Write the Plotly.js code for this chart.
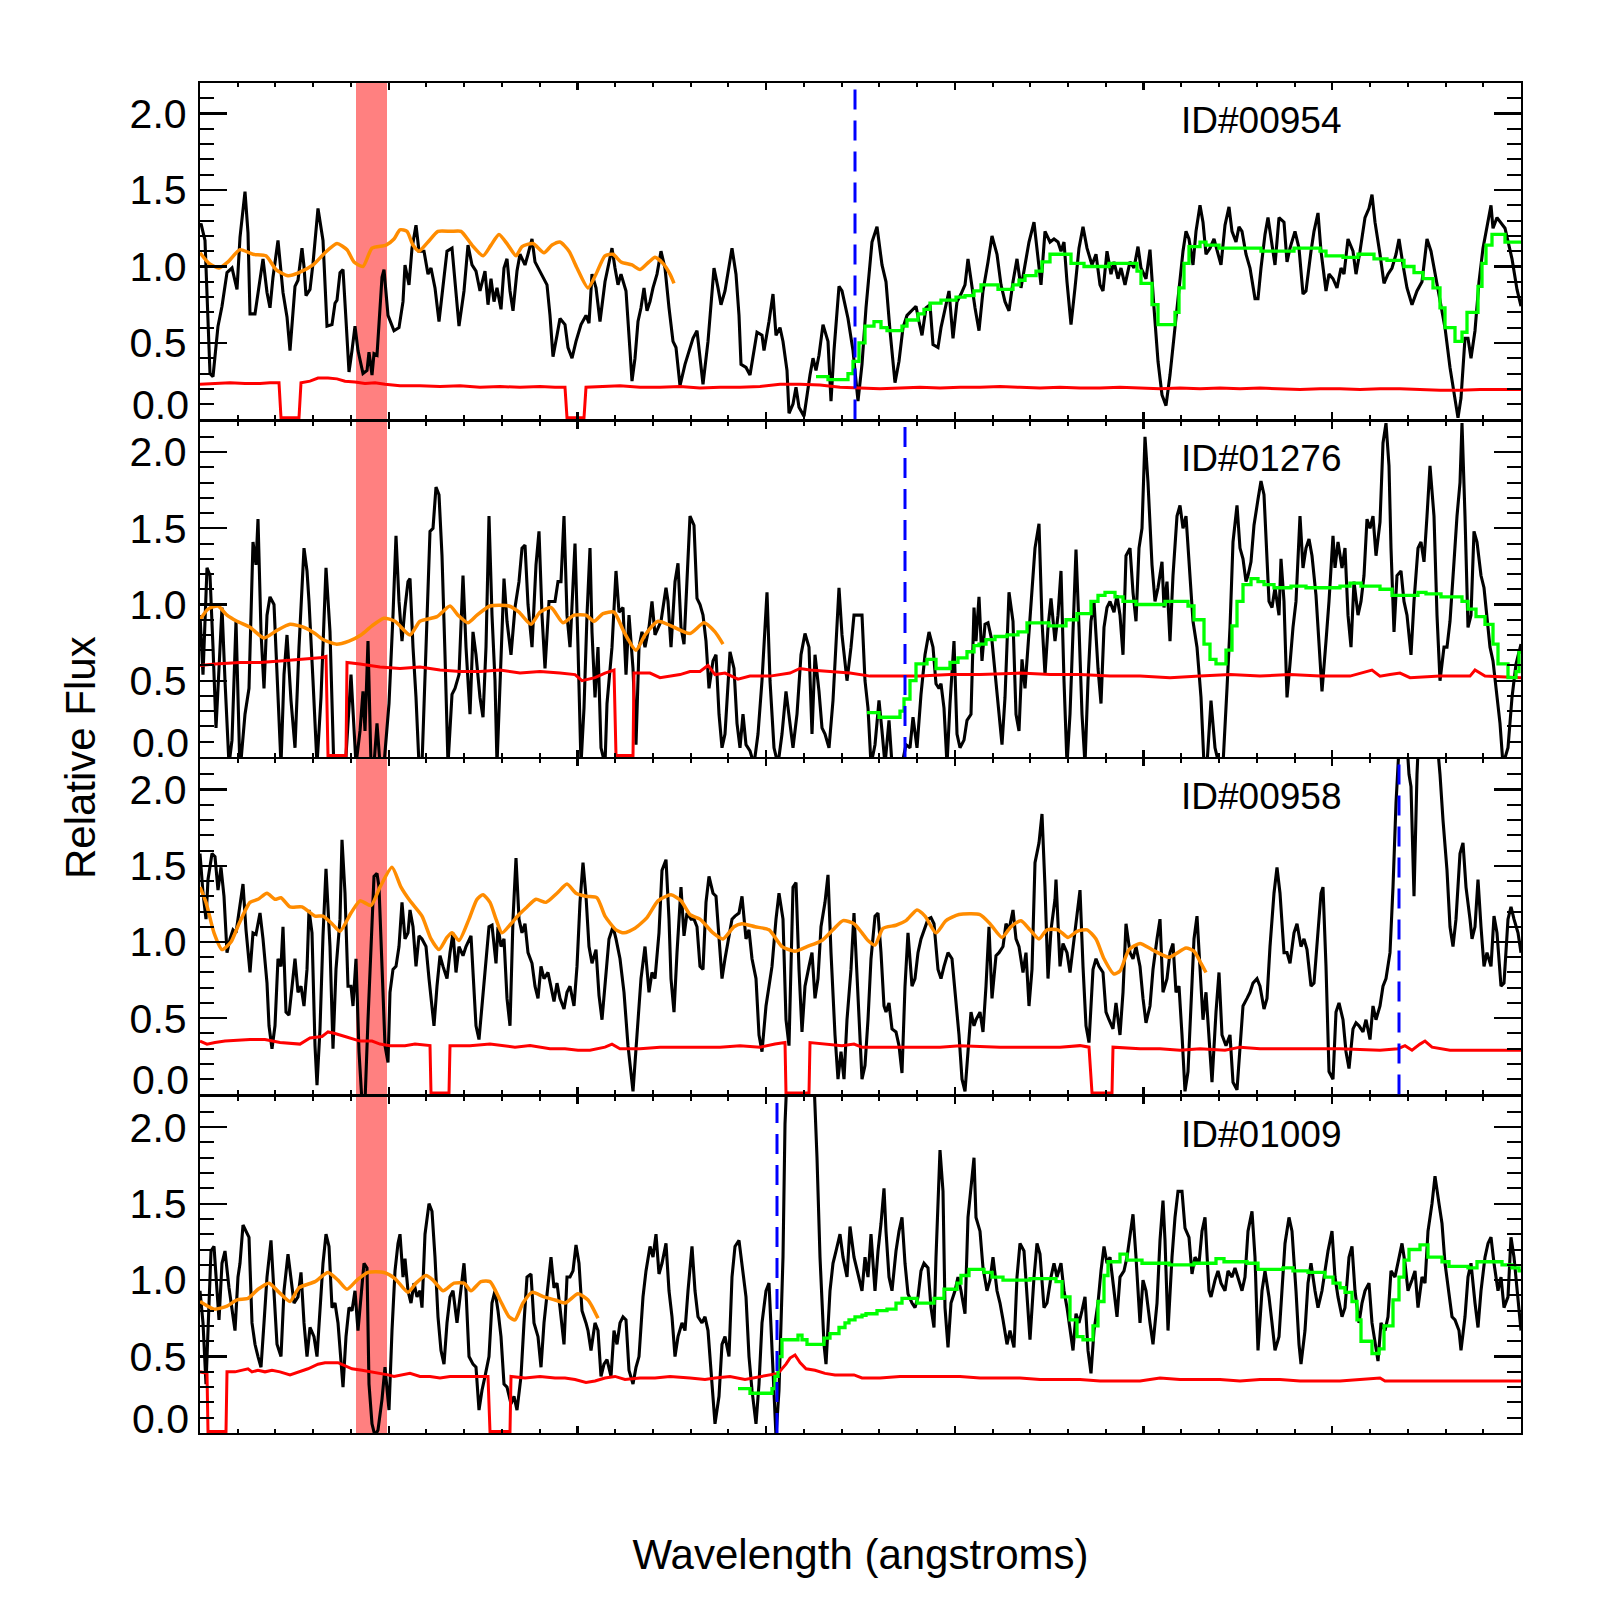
<!DOCTYPE html>
<html><head><meta charset="utf-8">
<script src="https://cdn.plot.ly/plotly-3.0.1.min.js"></script>
<style>html,body{margin:0;padding:0;background:#fff}#chart{width:1600px;height:1600px}</style>
</head><body><div id="chart"></div>
<script>
// ---- data (wavelength, value) ----
const panelIds = ['ID#00954', 'ID#01276', 'ID#00958', 'ID#01009'];
const breakLines = [1855, 1905, 2399, 1777];
const maskBand = [1356, 1387];
const yTickVals = [0, 0.5, 1.0, 1.5, 2.0];
const yTickText = ['', '0.5', '1.0', '1.5', '2.0'];

const flux954 = [[1200,1.27],[1201,1.28],[1205,1.17],[1207,0.83],[1210,0.30],[1213,0.28],[1218,0.61],[1222,0.74],[1227,0.96],[1232,0.99],[1237,0.85],[1240,1.19],[1245,1.49],[1248,1.22],[1250,0.69],[1255,0.69],[1260,0.93],[1263,1.05],[1267,0.83],[1270,0.73],[1273,0.93],[1278,1.17],[1283,0.83],[1287,0.67],[1290,0.45],[1295,0.87],[1298,0.91],[1302,1.12],[1304,1.00],[1306,0.81],[1310,0.85],[1313,1.02],[1318,1.38],[1323,1.17],[1327,0.61],[1332,0.62],[1335,0.76],[1337,0.78],[1340,0.96],[1343,0.98],[1346,0.65],[1349,0.31],[1352,0.45],[1355,0.61],[1358,0.45],[1363,0.30],[1367,0.32],[1369,0.44],[1372,0.29],[1374,0.43],[1377,0.42],[1382,0.93],[1384,0.98],[1388,0.68],[1394,0.58],[1399,0.60],[1403,0.77],[1405,1.01],[1409,0.88],[1412,1.12],[1416,1.27],[1419,1.10],[1424,1.10],[1428,0.95],[1431,0.99],[1435,0.86],[1439,0.64],[1443,0.86],[1447,1.10],[1452,1.12],[1455,0.90],[1459,0.61],[1464,0.84],[1468,1.14],[1472,1.01],[1476,0.97],[1480,0.84],[1485,0.97],[1488,0.75],[1491,0.92],[1494,0.77],[1497,0.86],[1501,0.72],[1504,0.99],[1507,1.05],[1510,0.84],[1513,0.71],[1517,0.97],[1520,1.08],[1525,1.01],[1528,1.08],[1532,1.18],[1535,1.03],[1540,0.97],[1547,0.88],[1550,0.68],[1553,0.41],[1557,0.55],[1560,0.66],[1565,0.62],[1568,0.47],[1572,0.40],[1576,0.51],[1581,0.62],[1586,0.68],[1589,0.63],[1592,0.95],[1596,0.86],[1600,0.64],[1605,0.90],[1609,1.03],[1612,1.12],[1615,0.99],[1618,0.88],[1621,0.95],[1626,0.84],[1630,0.45],[1632,0.25],[1635,0.40],[1638,0.64],[1641,0.73],[1644,0.86],[1647,0.71],[1650,0.77],[1653,0.86],[1657,0.95],[1661,1.10],[1665,0.99],[1669,0.73],[1673,0.51],[1676,0.47],[1680,0.22],[1685,0.36],[1689,0.45],[1693,0.53],[1697,0.58],[1700,0.42],[1703,0.23],[1708,0.51],[1714,0.99],[1718,0.86],[1721,0.75],[1725,0.84],[1732,1.12],[1736,0.95],[1739,0.68],[1741,0.36],[1746,0.34],[1750,0.29],[1754,0.47],[1757,0.57],[1762,0.55],[1764,0.45],[1769,0.64],[1773,0.82],[1776,0.55],[1780,0.60],[1783,0.51],[1787,0.32],[1789,0.04],[1793,0.10],[1796,0.21],[1799,0.08],[1804,0.02],[1807,0.16],[1810,0.29],[1813,0.40],[1816,0.32],[1819,0.42],[1823,0.62],[1828,0.51],[1831,0.12],[1834,0.45],[1839,0.87],[1842,0.84],[1848,0.66],[1853,0.45],[1858,0.12],[1862,0.36],[1866,0.73],[1872,1.16],[1877,1.26],[1882,1.01],[1886,0.90],[1890,0.58],[1895,0.24],[1899,0.38],[1903,0.60],[1907,0.68],[1912,0.71],[1916,0.74],[1919,0.64],[1922,0.55],[1926,0.73],[1930,0.75],[1933,0.49],[1938,0.47],[1941,0.60],[1945,0.73],[1949,0.84],[1953,0.53],[1957,0.77],[1961,0.82],[1965,0.88],[1968,1.05],[1971,0.90],[1975,0.73],[1979,0.58],[1983,0.84],[1988,1.03],[1992,1.20],[1997,1.08],[2001,0.88],[2005,0.77],[2009,0.71],[2013,0.90],[2017,1.05],[2021,0.86],[2025,1.01],[2029,1.16],[2034,1.29],[2037,1.10],[2041,0.88],[2045,1.23],[2050,1.16],[2054,1.18],[2058,1.16],[2061,1.10],[2064,1.16],[2067,0.90],[2071,0.62],[2075,0.86],[2079,1.12],[2083,1.26],[2087,1.12],[2092,1.01],[2096,1.08],[2100,0.88],[2103,0.84],[2107,1.10],[2111,0.95],[2114,1.03],[2118,0.92],[2121,0.99],[2125,0.88],[2130,1.03],[2134,0.99],[2138,1.13],[2141,0.99],[2146,0.92],[2150,1.11],[2154,0.73],[2158,0.38],[2162,0.16],[2166,0.09],[2170,0.29],[2175,0.60],[2179,0.86],[2183,1.10],[2186,1.23],[2189,1.18],[2193,1.01],[2196,1.23],[2200,1.40],[2203,1.29],[2206,1.08],[2210,1.12],[2214,1.18],[2218,1.08],[2221,1.01],[2225,1.27],[2229,1.39],[2232,1.23],[2236,1.16],[2239,1.26],[2242,1.23],[2246,1.08],[2250,0.99],[2255,0.79],[2258,0.79],[2261,0.99],[2265,1.21],[2268,1.32],[2272,1.16],[2275,1.01],[2279,1.32],[2284,1.29],[2287,1.03],[2290,1.12],[2295,1.23],[2299,1.12],[2303,0.82],[2306,0.84],[2311,1.10],[2314,1.23],[2318,1.35],[2321,1.10],[2326,0.84],[2329,0.95],[2333,0.92],[2337,0.86],[2341,0.99],[2344,0.95],[2348,1.18],[2353,1.10],[2356,0.95],[2360,1.10],[2365,1.32],[2369,1.38],[2372,1.47],[2375,1.29],[2380,1.08],[2384,0.89],[2388,0.95],[2392,0.99],[2396,1.08],[2399,1.18],[2403,1.01],[2407,0.86],[2412,0.75],[2417,0.84],[2422,0.90],[2427,1.18],[2431,1.10],[2436,0.92],[2440,0.77],[2445,0.60],[2450,0.34],[2454,0.16],[2458,0.01],[2461,0.14],[2465,0.53],[2468,0.53],[2471,0.40],[2475,0.58],[2479,0.90],[2483,1.12],[2487,1.27],[2491,1.40],[2493,1.25],[2497,1.32],[2505,1.25],[2512,1.05],[2517,0.85],[2521,0.74]];
const err954 = [[1200,0.23],[1215,0.235],[1230,0.24],[1245,0.235],[1260,0.235],[1270,0.24],[1279,0.24],[1281,0.01],[1299,0.01],[1301,0.24],[1310,0.25],[1318,0.27],[1328,0.27],[1337,0.265],[1345,0.25],[1355,0.245],[1365,0.235],[1375,0.24],[1385,0.23],[1400,0.22],[1420,0.22],[1440,0.215],[1460,0.22],[1480,0.21],[1500,0.215],[1520,0.21],[1540,0.215],[1555,0.21],[1565,0.21],[1567,0.01],[1584,0.01],[1586,0.21],[1600,0.215],[1620,0.22],[1640,0.21],[1660,0.21],[1680,0.215],[1700,0.205],[1720,0.21],[1740,0.21],[1760,0.215],[1780,0.23],[1800,0.23],[1820,0.225],[1840,0.21],[1860,0.205],[1880,0.20],[1900,0.205],[1920,0.21],[1940,0.205],[1960,0.21],[1980,0.21],[2000,0.215],[2020,0.21],[2040,0.205],[2060,0.21],[2080,0.205],[2100,0.205],[2120,0.21],[2140,0.205],[2160,0.20],[2180,0.205],[2200,0.20],[2220,0.205],[2240,0.20],[2260,0.205],[2280,0.20],[2300,0.195],[2320,0.20],[2340,0.20],[2360,0.195],[2380,0.20],[2400,0.20],[2420,0.195],[2440,0.19],[2460,0.19],[2480,0.195],[2500,0.195],[2521,0.195]];
const model954 = [[1200,1.09],[1209,1.02],[1219,0.99],[1228,1.03],[1240,1.11],[1253,1.08],[1266,1.07],[1276,0.98],[1288,0.94],[1299,0.96],[1313,1.01],[1325,1.09],[1337,1.15],[1347,1.11],[1354,1.03],[1363,1.00],[1372,1.12],[1386,1.14],[1394,1.18],[1400,1.24],[1407,1.23],[1413,1.14],[1419,1.10],[1428,1.16],[1438,1.23],[1451,1.23],[1461,1.23],[1472,1.14],[1483,1.07],[1491,1.14],[1499,1.21],[1508,1.14],[1516,1.07],[1522,1.13],[1533,1.15],[1544,1.09],[1552,1.14],[1560,1.16],[1569,1.10],[1577,0.99],[1588,0.86],[1596,0.95],[1605,1.07],[1613,1.08],[1621,1.03],[1632,1.01],[1640,0.98],[1649,1.03],[1655,1.06],[1663,1.02],[1670,0.95],[1674,0.89]];
const fit954 = [[1816,0.28],[1828,0.26],[1848,0.30],[1853,0.38],[1859,0.50],[1865,0.61],[1874,0.64],[1881,0.60],[1887,0.58],[1902,0.61],[1907,0.65],[1918,0.69],[1924,0.72],[1930,0.76],[1941,0.78],[1956,0.80],[1965,0.81],[1974,0.84],[1981,0.88],[1998,0.85],[2013,0.88],[2019,0.91],[2025,0.94],[2036,0.97],[2042,1.03],[2050,1.08],[2071,1.02],[2084,1.00],[2109,1.02],[2137,0.97],[2141,0.89],[2152,0.75],[2158,0.62],[2175,0.70],[2179,0.86],[2184,1.02],[2189,1.13],[2200,1.16],[2206,1.14],[2219,1.12],[2261,1.10],[2294,1.12],[2320,1.10],[2326,1.07],[2343,1.06],[2358,1.08],[2374,1.05],[2387,1.04],[2404,1.00],[2414,0.96],[2423,0.92],[2433,0.86],[2440,0.73],[2445,0.60],[2455,0.51],[2462,0.57],[2467,0.70],[2478,0.87],[2482,1.02],[2486,1.14],[2492,1.21],[2505,1.16],[2521,1.16]];

const flux1276 = [[1200,0.93],[1203,0.54],[1207,1.24],[1210,1.19],[1213,0.72],[1216,0.19],[1219,0.58],[1222,0.98],[1225,0.50],[1229,-0.05],[1232,0.11],[1236,0.89],[1240,-0.1],[1245,0.28],[1249,0.45],[1253,1.41],[1256,1.26],[1258,1.56],[1261,0.82],[1264,0.45],[1267,0.93],[1270,1.05],[1274,1.00],[1277,0.50],[1281,-0.05],[1284,0.54],[1287,0.80],[1291,0.37],[1295,0.06],[1299,0.72],[1304,1.37],[1307,1.22],[1309,1.02],[1313,0.50],[1317,-0.05],[1321,0.39],[1326,1.24],[1330,0.82],[1334,-0.1],[1339,-0.1],[1345,-0.1],[1351,0.54],[1356,-0.05],[1360,0.17],[1363,0.43],[1365,0.17],[1368,0.76],[1371,-0.05],[1374,-0.05],[1377,0.22],[1380,-0.05],[1384,-0.05],[1389,0.35],[1393,0.93],[1396,1.45],[1399,1.02],[1402,0.76],[1405,0.98],[1408,1.15],[1410,1.17],[1413,0.72],[1416,0.39],[1419,-0.05],[1422,-0.05],[1426,0.72],[1430,1.48],[1433,1.50],[1436,1.77],[1439,1.72],[1442,1.32],[1445,0.67],[1448,-0.05],[1452,0.41],[1455,0.45],[1459,0.54],[1463,1.19],[1466,0.72],[1470,0.28],[1473,0.82],[1476,0.67],[1480,0.39],[1483,0.26],[1486,0.72],[1489,1.58],[1492,0.93],[1495,0.50],[1497,-0.05],[1501,0.72],[1504,1.17],[1507,0.89],[1511,0.67],[1515,0.98],[1519,1.15],[1522,1.37],[1525,1.39],[1528,1.00],[1532,0.72],[1536,1.26],[1539,1.48],[1542,0.93],[1545,0.58],[1549,1.02],[1552,1.02],[1555,1.02],[1558,1.15],[1561,1.15],[1564,1.58],[1567,0.93],[1570,0.72],[1573,1.15],[1575,1.40],[1578,0.72],[1581,-0.05],[1584,0.32],[1587,0.93],[1590,1.37],[1592,0.82],[1595,0.39],[1598,0.72],[1601,0.06],[1605,-0.05],[1607,0.35],[1612,0.72],[1616,1.22],[1619,0.95],[1623,0.98],[1626,0.54],[1629,0.93],[1633,0.58],[1636,0.08],[1639,0.72],[1642,0.82],[1645,0.72],[1649,0.85],[1652,1.02],[1655,0.80],[1658,0.85],[1661,0.89],[1666,1.11],[1668,1.02],[1671,0.72],[1675,1.15],[1678,1.27],[1681,0.85],[1684,0.74],[1687,1.22],[1690,1.58],[1694,1.52],[1697,1.04],[1700,1.00],[1703,0.93],[1706,0.76],[1709,0.45],[1713,0.63],[1716,0.67],[1719,0.28],[1722,0.06],[1725,0.15],[1730,0.69],[1734,0.58],[1737,0.22],[1740,0.06],[1743,0.28],[1746,0.08],[1750,0.04],[1754,-0.05],[1758,0.15],[1762,0.50],[1767,1.08],[1770,0.50],[1774,0.06],[1778,-0.05],[1782,0.15],[1786,0.43],[1789,0.28],[1793,0.06],[1797,0.28],[1801,0.67],[1805,0.81],[1809,0.72],[1812,0.15],[1815,0.67],[1819,0.43],[1822,0.19],[1825,0.15],[1829,0.06],[1833,0.37],[1836,0.72],[1839,1.11],[1842,0.80],[1847,0.50],[1851,0.72],[1854,0.93],[1862,0.93],[1865,0.50],[1868,0.32],[1871,-0.05],[1875,0.08],[1879,0.37],[1882,0.17],[1885,-0.05],[1889,0.24],[1892,-0.05],[1898,-0.05],[1902,-0.05],[1906,0.08],[1910,0.06],[1913,0.26],[1917,0.06],[1921,0.41],[1925,0.67],[1929,0.82],[1933,0.72],[1936,0.48],[1939,0.45],[1941,0.48],[1944,0.32],[1947,-0.05],[1950,0.35],[1954,0.76],[1957,0.15],[1960,0.06],[1964,0.11],[1967,0.24],[1971,0.28],[1974,0.98],[1976,0.76],[1979,1.05],[1982,0.63],[1985,0.87],[1988,0.88],[1992,0.76],[1996,0.50],[1999,0.28],[2002,0.08],[2005,0.39],[2009,1.08],[2013,0.89],[2016,0.28],[2019,0.17],[2022,0.64],[2025,0.45],[2028,0.72],[2031,1.04],[2035,1.37],[2039,1.53],[2042,0.89],[2045,0.54],[2048,0.85],[2051,1.04],[2055,0.76],[2058,0.93],[2061,1.22],[2064,0.50],[2067,-0.05],[2070,0.28],[2073,0.89],[2076,1.36],[2079,0.85],[2082,0.28],[2085,-0.05],[2088,0.50],[2091,0.89],[2094,1.02],[2098,0.58],[2101,0.35],[2104,0.85],[2107,0.98],[2110,1.02],[2114,0.95],[2117,1.06],[2120,0.93],[2123,0.67],[2126,1.32],[2130,1.37],[2133,1.08],[2136,0.89],[2139,1.37],[2142,1.50],[2145,2.10],[2148,1.80],[2152,1.26],[2155,1.02],[2158,1.11],[2162,1.28],[2164,0.98],[2167,1.15],[2170,0.76],[2173,1.19],[2177,1.58],[2180,1.65],[2183,1.50],[2186,1.58],[2189,1.26],[2193,0.89],[2197,0.72],[2201,0.39],[2204,-0.05],[2207,-0.05],[2211,0.37],[2215,0.06],[2219,-0.05],[2223,-0.05],[2227,0.45],[2230,0.85],[2233,1.41],[2237,1.65],[2240,1.37],[2243,1.30],[2246,1.15],[2248,1.19],[2251,1.28],[2254,1.52],[2258,1.69],[2261,1.81],[2264,1.72],[2267,1.26],[2269,1.02],[2272,0.98],[2275,1.11],[2279,0.93],[2281,1.30],[2284,1.02],[2287,0.39],[2290,0.61],[2293,0.85],[2296,1.02],[2300,1.58],[2303,1.24],[2306,1.37],[2309,1.43],[2312,1.32],[2316,1.06],[2319,0.72],[2322,0.43],[2326,0.76],[2329,1.02],[2333,1.45],[2335,1.24],[2338,1.41],[2342,1.24],[2345,1.37],[2348,0.93],[2351,0.72],[2354,1.15],[2358,0.93],[2361,1.02],[2364,1.19],[2367,1.56],[2370,1.50],[2373,1.58],[2376,1.32],[2380,1.54],[2383,2.06],[2386,2.19],[2389,1.91],[2391,1.37],[2394,0.82],[2397,1.19],[2401,1.22],[2404,1.02],[2407,0.93],[2411,0.67],[2414,1.02],[2418,1.37],[2421,1.41],[2424,1.28],[2427,1.58],[2430,1.91],[2434,1.58],[2437,0.93],[2440,0.50],[2444,0.72],[2447,0.72],[2450,0.89],[2454,1.28],[2457,1.58],[2460,1.80],[2462,2.19],[2465,1.58],[2468,0.85],[2471,0.93],[2474,1.48],[2477,1.41],[2481,1.19],[2484,1.11],[2487,0.89],[2490,0.72],[2493,0.63],[2497,0.39],[2500,0.22],[2503,-0.05],[2508,0.06],[2512,0.39],[2516,0.61],[2521,0.74]];
const err1276 = [[1200,0.60],[1215,0.61],[1240,0.62],[1260,0.62],[1280,0.63],[1300,0.64],[1320,0.65],[1326,0.66],[1328,0.01],[1346,0.01],[1347,0.62],[1360,0.61],[1380,0.59],[1400,0.58],[1420,0.59],[1440,0.57],[1460,0.56],[1480,0.56],[1500,0.57],[1520,0.55],[1540,0.56],[1560,0.55],[1575,0.54],[1582,0.50],[1595,0.52],[1605,0.55],[1614,0.57],[1616,0.01],[1633,0.01],[1634,0.55],[1650,0.55],[1660,0.52],[1680,0.54],[1690,0.56],[1700,0.56],[1708,0.60],[1715,0.54],[1725,0.55],[1738,0.51],[1750,0.53],[1770,0.53],[1790,0.55],[1800,0.58],[1810,0.57],[1830,0.56],[1850,0.55],[1870,0.53],[1890,0.53],[1920,0.53],[1950,0.54],[1980,0.54],[2020,0.55],[2050,0.54],[2080,0.54],[2110,0.53],[2140,0.53],[2170,0.52],[2200,0.53],[2230,0.54],[2260,0.53],[2290,0.54],[2320,0.53],[2350,0.53],[2372,0.57],[2380,0.53],[2390,0.54],[2400,0.55],[2410,0.52],[2440,0.53],[2470,0.53],[2475,0.57],[2485,0.53],[2521,0.52]];
const model1276 = [[1200,0.90],[1208,0.97],[1218,0.99],[1227,0.93],[1237,0.89],[1250,0.85],[1264,0.78],[1277,0.83],[1290,0.87],[1304,0.85],[1315,0.81],[1323,0.77],[1336,0.74],[1349,0.76],[1361,0.80],[1372,0.86],[1384,0.91],[1395,0.89],[1410,0.80],[1420,0.89],[1437,0.92],[1450,0.99],[1458,0.93],[1468,0.88],[1477,0.93],[1490,0.99],[1509,0.99],[1519,0.95],[1531,0.87],[1540,0.95],[1551,0.98],[1563,0.88],[1574,0.93],[1586,0.93],[1594,0.89],[1603,0.94],[1614,0.95],[1624,0.82],[1636,0.70],[1645,0.80],[1658,0.89],[1671,0.86],[1690,0.81],[1704,0.88],[1715,0.82],[1723,0.74]];
const fit1276 = [[1867,0.29],[1879,0.26],[1900,0.30],[1904,0.38],[1910,0.50],[1916,0.61],[1927,0.64],[1936,0.58],[1950,0.62],[1958,0.65],[1967,0.69],[1974,0.73],[1979,0.74],[1986,0.77],[1995,0.79],[2007,0.80],[2018,0.82],[2027,0.88],[2049,0.86],[2066,0.90],[2077,0.94],[2091,1.02],[2098,1.06],[2105,1.08],[2115,1.05],[2123,1.02],[2136,1.00],[2165,1.02],[2188,0.99],[2194,0.90],[2204,0.74],[2210,0.64],[2216,0.61],[2226,0.70],[2232,0.86],[2237,1.02],[2243,1.13],[2251,1.17],[2258,1.15],[2264,1.13],[2274,1.11],[2291,1.12],[2306,1.11],[2321,1.11],[2340,1.12],[2350,1.14],[2361,1.12],[2380,1.10],[2392,1.06],[2407,1.06],[2418,1.08],[2426,1.07],[2441,1.05],[2462,1.02],[2468,0.97],[2476,0.92],[2485,0.87],[2493,0.74],[2498,0.61],[2508,0.52],[2516,0.56],[2519,0.69],[2521,0.69]];

const flux958 = [[1200,1.58],[1203,1.32],[1206,1.15],[1208,1.41],[1212,1.58],[1215,1.56],[1218,1.34],[1221,1.49],[1224,1.30],[1227,0.93],[1230,1.02],[1233,1.08],[1236,1.06],[1239,1.19],[1243,1.38],[1246,1.08],[1250,0.80],[1253,1.06],[1256,1.05],[1260,1.19],[1263,1.02],[1267,0.73],[1269,0.45],[1272,0.30],[1275,0.45],[1278,0.89],[1281,0.84],[1283,1.10],[1286,0.54],[1289,0.52],[1293,0.76],[1295,0.89],[1298,0.67],[1301,0.71],[1304,0.58],[1307,0.82],[1309,1.21],[1312,1.06],[1315,0.32],[1317,0.06],[1320,0.43],[1323,1.04],[1326,1.48],[1330,0.97],[1333,0.30],[1336,0.82],[1340,1.15],[1342,1.67],[1345,1.32],[1348,0.71],[1351,0.71],[1353,0.58],[1356,0.89],[1359,0.28],[1362,-0.05],[1365,-0.05],[1368,0.49],[1372,1.15],[1374,1.43],[1377,1.45],[1379,1.36],[1382,0.84],[1385,0.32],[1388,0.21],[1390,0.67],[1393,0.82],[1396,0.84],[1399,0.97],[1402,1.26],[1405,1.02],[1408,1.06],[1410,1.21],[1413,1.10],[1416,0.84],[1419,1.04],[1422,1.02],[1426,0.97],[1429,0.76],[1432,0.58],[1434,0.45],[1437,0.71],[1440,0.91],[1443,0.84],[1447,0.76],[1450,0.93],[1453,1.06],[1456,0.80],[1459,0.97],[1463,0.91],[1466,0.97],[1471,1.04],[1474,0.71],[1476,0.45],[1479,0.36],[1482,0.58],[1485,0.82],[1489,1.10],[1492,1.11],[1496,0.86],[1498,1.10],[1501,0.97],[1504,1.02],[1507,0.63],[1510,0.45],[1513,1.15],[1516,1.55],[1519,1.15],[1522,1.06],[1525,1.12],[1528,0.93],[1532,0.86],[1535,0.71],[1538,0.63],[1541,0.84],[1544,0.76],[1548,0.80],[1551,0.71],[1554,0.61],[1557,0.73],[1560,0.63],[1564,0.56],[1567,0.67],[1570,0.71],[1574,0.58],[1577,0.84],[1580,1.26],[1583,1.52],[1586,1.30],[1589,0.97],[1592,0.86],[1596,0.95],[1599,0.65],[1602,0.49],[1606,0.82],[1609,1.02],[1613,1.10],[1616,1.02],[1620,0.89],[1624,0.67],[1628,0.32],[1633,0.02],[1637,0.39],[1641,0.76],[1645,0.97],[1649,0.67],[1652,0.80],[1655,0.76],[1659,1.06],[1662,1.47],[1666,1.54],[1669,1.15],[1671,0.76],[1674,0.54],[1677,0.93],[1681,1.36],[1684,1.04],[1687,1.19],[1691,1.15],[1694,1.15],[1697,1.10],[1700,0.84],[1703,0.82],[1706,1.26],[1709,1.43],[1713,1.32],[1716,1.30],[1719,1.02],[1722,0.76],[1725,0.89],[1729,1.04],[1732,1.15],[1735,1.17],[1739,1.19],[1742,1.30],[1746,1.02],[1749,1.08],[1752,0.89],[1756,0.76],[1759,0.39],[1762,0.28],[1766,0.58],[1769,0.71],[1772,0.84],[1776,1.15],[1779,1.32],[1783,1.15],[1786,0.49],[1789,0.32],[1793,1.36],[1796,1.39],[1799,0.82],[1802,0.41],[1805,0.71],[1809,0.84],[1812,0.93],[1815,0.63],[1818,0.76],[1821,1.10],[1825,1.26],[1828,1.44],[1831,0.93],[1835,0.39],[1838,0.10],[1841,0.28],[1844,0.10],[1847,0.49],[1851,0.82],[1854,1.19],[1862,0.10],[1865,0.19],[1868,0.49],[1871,0.89],[1875,1.17],[1878,1.19],[1881,0.93],[1884,0.58],[1886,0.54],[1889,0.60],[1892,0.43],[1896,0.41],[1899,0.32],[1902,0.14],[1905,0.71],[1908,1.06],[1912,0.71],[1915,0.76],[1918,0.93],[1921,1.02],[1924,1.08],[1928,1.15],[1931,1.16],[1934,1.12],[1938,0.82],[1941,0.76],[1944,0.84],[1948,0.93],[1952,0.89],[1955,0.67],[1959,0.39],[1962,0.10],[1965,0.02],[1968,0.28],[1971,0.54],[1974,0.45],[1976,0.49],[1980,0.54],[1983,0.41],[1986,0.71],[1989,1.10],[1992,0.63],[1996,0.91],[1999,0.93],[2003,0.97],[2006,1.12],[2009,1.08],[2013,1.21],[2016,1.02],[2019,0.97],[2023,0.80],[2026,0.93],[2029,0.58],[2032,0.82],[2035,1.52],[2039,1.65],[2042,1.84],[2045,1.36],[2048,0.76],[2051,1.08],[2055,1.28],[2056,1.41],[2060,0.84],[2063,0.99],[2067,0.93],[2070,0.80],[2073,0.97],[2077,1.19],[2080,1.34],[2083,0.84],[2086,0.45],[2089,0.34],[2093,0.82],[2096,0.89],[2099,0.84],[2103,0.80],[2106,0.54],[2109,0.49],[2113,0.43],[2116,0.60],[2120,0.39],[2123,0.67],[2126,1.12],[2130,0.93],[2133,0.89],[2136,0.97],[2140,0.84],[2143,0.63],[2146,0.47],[2150,0.58],[2153,0.82],[2157,1.02],[2160,1.15],[2163,0.67],[2167,0.76],[2170,0.93],[2173,0.99],[2176,0.67],[2179,0.71],[2182,0.39],[2185,0.02],[2188,0.15],[2191,0.58],[2194,1.02],[2197,1.17],[2200,0.84],[2203,0.49],[2206,0.67],[2209,0.36],[2212,0.08],[2216,0.54],[2219,0.80],[2222,0.39],[2226,0.32],[2230,0.39],[2233,0.08],[2237,0.03],[2240,0.28],[2243,0.58],[2247,0.63],[2250,0.67],[2253,0.73],[2257,0.76],[2260,0.71],[2264,0.56],[2267,0.63],[2270,0.97],[2274,1.32],[2277,1.49],[2280,1.32],[2284,0.93],[2287,0.93],[2290,0.86],[2294,1.06],[2297,1.12],[2301,0.97],[2304,1.02],[2307,0.95],[2311,0.71],[2314,0.73],[2317,0.97],[2321,1.32],[2323,1.36],[2326,0.84],[2329,0.15],[2333,0.10],[2336,0.54],[2339,0.60],[2343,0.49],[2346,0.28],[2349,0.17],[2353,0.43],[2356,0.47],[2359,0.45],[2363,0.41],[2366,0.49],[2370,0.36],[2373,0.58],[2376,0.49],[2380,0.58],[2383,0.71],[2386,0.76],[2390,0.93],[2393,1.36],[2396,1.91],[2398,2.17],[2400,2.40],[2406,2.40],[2409,2.10],[2411,2.02],[2414,1.30],[2417,2.10],[2419,2.40],[2436,2.40],[2440,2.10],[2443,1.80],[2447,1.47],[2450,1.10],[2453,0.97],[2456,1.15],[2460,1.58],[2463,1.65],[2466,1.36],[2470,1.15],[2472,1.02],[2475,1.10],[2478,1.41],[2481,1.10],[2484,0.84],[2487,0.93],[2491,0.84],[2494,1.17],[2497,1.06],[2501,0.71],[2504,0.73],[2508,1.15],[2511,1.23],[2514,1.15],[2518,1.06],[2521,0.93]];
const err958 = [[1200,0.35],[1207,0.33],[1215,0.34],[1225,0.35],[1250,0.36],[1265,0.36],[1280,0.34],[1300,0.33],[1310,0.37],[1322,0.38],[1328,0.41],[1335,0.40],[1345,0.38],[1360,0.35],[1372,0.35],[1380,0.33],[1390,0.32],[1405,0.32],[1415,0.33],[1426,0.32],[1430,0.32],[1431,0.01],[1449,0.01],[1450,0.32],[1470,0.32],[1490,0.33],[1505,0.32],[1515,0.31],[1530,0.32],[1550,0.30],[1565,0.30],[1578,0.29],[1590,0.29],[1605,0.31],[1612,0.33],[1620,0.30],[1640,0.30],[1660,0.31],[1680,0.31],[1700,0.31],[1720,0.31],[1740,0.32],[1760,0.31],[1775,0.33],[1785,0.34],[1786,0.01],[1809,0.01],[1810,0.34],[1830,0.33],[1842,0.32],[1854,0.33],[1862,0.31],[1900,0.31],[1940,0.31],[1960,0.32],[2000,0.31],[2040,0.31],[2060,0.31],[2080,0.32],[2089,0.31],[2092,0.01],[2112,0.01],[2113,0.31],[2140,0.30],[2160,0.30],[2180,0.29],[2200,0.30],[2225,0.29],[2240,0.31],[2260,0.30],[2300,0.30],[2340,0.30],[2380,0.29],[2398,0.30],[2405,0.32],[2412,0.29],[2420,0.33],[2425,0.35],[2432,0.31],[2450,0.29],[2480,0.29],[2500,0.29],[2521,0.29]];
const model958 = [[1200,1.36],[1206,1.26],[1214,1.06],[1222,0.95],[1231,1.00],[1239,1.12],[1250,1.26],[1258,1.28],[1267,1.32],[1275,1.28],[1281,1.29],[1290,1.23],[1302,1.23],[1315,1.17],[1323,1.17],[1332,1.12],[1340,1.07],[1351,1.19],[1360,1.27],[1371,1.24],[1380,1.36],[1392,1.49],[1401,1.36],[1410,1.27],[1422,1.17],[1431,1.02],[1439,0.95],[1447,1.03],[1452,1.06],[1459,1.01],[1469,1.15],[1477,1.28],[1483,1.31],[1490,1.26],[1496,1.15],[1502,1.06],[1511,1.12],[1519,1.18],[1527,1.23],[1536,1.28],[1546,1.26],[1557,1.32],[1567,1.38],[1576,1.32],[1586,1.30],[1597,1.29],[1605,1.17],[1616,1.08],[1624,1.06],[1635,1.09],[1647,1.16],[1658,1.27],[1671,1.31],[1681,1.27],[1690,1.18],[1700,1.15],[1713,1.06],[1723,1.02],[1734,1.10],[1742,1.12],[1755,1.10],[1769,1.08],[1782,0.97],[1795,0.94],[1807,0.97],[1822,1.01],[1833,1.08],[1843,1.14],[1854,1.12],[1862,1.06],[1868,1.01],[1875,0.98],[1883,1.09],[1896,1.11],[1906,1.14],[1917,1.21],[1925,1.17],[1936,1.06],[1946,1.14],[1959,1.18],[1980,1.18],[1990,1.12],[2002,1.03],[2011,1.10],[2021,1.14],[2030,1.08],[2039,1.02],[2047,1.08],[2058,1.08],[2068,1.03],[2077,1.07],[2087,1.08],[2096,1.02],[2104,0.89],[2114,0.79],[2120,0.81],[2129,0.95],[2140,0.99],[2152,0.95],[2169,0.90],[2186,0.96],[2194,0.94],[2201,0.86],[2206,0.80]];

const flux1009 = [[1200,0.93],[1203,0.72],[1206,0.32],[1208,0.67],[1211,1.19],[1214,1.22],[1217,0.93],[1219,0.74],[1222,1.11],[1225,1.19],[1229,0.95],[1232,0.80],[1235,0.67],[1238,1.02],[1240,1.11],[1243,1.36],[1246,1.32],[1249,1.28],[1252,0.72],[1255,0.58],[1258,0.50],[1261,0.43],[1264,0.72],[1267,1.02],[1271,1.26],[1274,0.89],[1277,0.58],[1281,0.50],[1284,0.93],[1288,1.17],[1291,1.02],[1294,0.85],[1298,0.89],[1301,1.05],[1304,0.72],[1307,0.50],[1310,0.69],[1314,0.63],[1317,0.50],[1320,0.85],[1323,1.11],[1326,1.30],[1329,1.22],[1332,0.82],[1335,0.85],[1338,0.72],[1341,0.45],[1343,0.30],[1346,0.63],[1349,0.82],[1352,0.80],[1355,0.93],[1358,0.67],[1361,0.89],[1364,1.11],[1367,1.08],[1369,0.32],[1372,0.06],[1375,-0.02],[1378,0.02],[1382,0.22],[1385,0.43],[1389,0.15],[1392,0.67],[1395,1.06],[1398,1.24],[1400,1.30],[1403,1.02],[1405,1.14],[1408,0.93],[1411,0.85],[1414,0.98],[1417,0.89],[1420,0.93],[1422,0.82],[1425,1.30],[1429,1.50],[1432,1.45],[1435,1.15],[1438,0.76],[1441,0.54],[1444,0.45],[1447,0.72],[1450,0.89],[1453,0.93],[1457,0.72],[1460,0.89],[1464,1.11],[1466,0.93],[1469,0.50],[1473,0.45],[1476,0.43],[1479,0.15],[1482,0.28],[1485,0.37],[1489,0.50],[1492,0.85],[1495,0.93],[1498,0.80],[1501,0.63],[1504,0.32],[1507,0.30],[1511,0.19],[1514,0.24],[1517,0.15],[1521,0.37],[1524,0.72],[1527,1.02],[1531,1.04],[1534,0.72],[1538,0.63],[1541,0.43],[1544,0.72],[1548,0.98],[1551,1.15],[1554,0.95],[1557,0.98],[1560,0.82],[1564,0.58],[1567,1.02],[1570,1.02],[1573,1.06],[1576,1.23],[1579,1.11],[1582,0.80],[1586,0.72],[1588,0.67],[1591,0.54],[1595,0.72],[1598,0.67],[1601,0.37],[1604,0.45],[1607,0.48],[1611,0.37],[1614,0.67],[1617,0.58],[1620,0.72],[1623,0.76],[1626,0.74],[1629,0.41],[1633,0.32],[1636,0.43],[1639,0.50],[1643,0.89],[1646,1.06],[1650,1.22],[1653,1.15],[1656,1.30],[1659,1.04],[1662,1.11],[1666,1.24],[1669,0.93],[1672,0.76],[1675,0.50],[1678,0.63],[1682,0.72],[1685,0.67],[1688,0.93],[1692,1.22],[1695,0.93],[1698,0.76],[1702,0.72],[1705,0.76],[1708,0.67],[1712,0.35],[1715,0.06],[1719,0.24],[1722,0.58],[1725,0.63],[1729,0.50],[1732,1.02],[1735,1.22],[1739,1.26],[1742,1.11],[1746,0.89],[1749,0.50],[1752,0.28],[1756,0.06],[1759,0.32],[1762,0.72],[1766,0.93],[1769,0.98],[1772,0.50],[1776,-0.02],[1779,0.28],[1783,1.15],[1785,2.02],[1788,2.50],[1812,2.50],[1814,2.30],[1817,1.80],[1820,1.15],[1824,0.58],[1826,0.45],[1830,0.93],[1833,1.11],[1836,1.19],[1840,1.30],[1843,1.15],[1847,1.02],[1850,1.35],[1854,1.15],[1862,0.93],[1865,1.15],[1868,1.02],[1871,1.30],[1875,0.93],[1878,1.19],[1881,1.37],[1884,1.60],[1886,1.32],[1889,1.02],[1892,0.93],[1896,1.19],[1899,1.32],[1902,1.41],[1905,1.11],[1908,0.91],[1912,0.85],[1915,0.82],[1918,0.89],[1921,1.06],[1924,1.11],[1928,1.08],[1931,0.82],[1934,0.69],[1936,1.15],[1940,1.85],[1943,1.58],[1945,0.82],[1948,0.56],[1951,0.85],[1955,0.93],[1958,1.02],[1961,0.93],[1965,0.78],[1968,1.41],[1971,1.63],[1974,1.80],[1976,1.41],[1980,1.32],[1983,1.08],[1987,0.93],[1990,1.00],[1993,1.15],[1997,0.93],[2000,0.85],[2003,0.74],[2007,0.58],[2010,0.67],[2014,0.56],[2017,1.02],[2020,1.24],[2024,1.19],[2027,0.89],[2030,0.61],[2034,1.02],[2037,1.24],[2040,1.17],[2044,0.82],[2047,0.85],[2051,1.02],[2054,1.11],[2057,1.02],[2061,1.11],[2064,0.93],[2067,0.82],[2070,0.67],[2073,0.54],[2076,0.78],[2079,0.72],[2082,0.80],[2085,0.89],[2088,0.54],[2091,0.39],[2094,0.67],[2098,0.85],[2101,1.06],[2104,1.22],[2107,1.11],[2110,1.15],[2114,0.93],[2117,0.76],[2120,1.02],[2124,1.06],[2127,1.15],[2131,1.32],[2133,1.43],[2136,1.15],[2140,0.72],[2143,1.00],[2146,0.93],[2150,0.72],[2153,0.58],[2157,0.85],[2160,1.26],[2163,1.52],[2165,1.26],[2168,0.67],[2172,1.15],[2175,1.41],[2178,1.58],[2182,1.58],[2185,1.34],[2189,1.28],[2192,1.04],[2195,1.15],[2199,1.11],[2202,1.32],[2205,1.41],[2209,0.93],[2211,0.89],[2215,1.00],[2218,1.06],[2221,0.98],[2225,0.93],[2228,1.06],[2232,1.02],[2235,1.08],[2238,1.02],[2242,0.93],[2245,1.02],[2248,1.32],[2252,1.45],[2255,1.15],[2258,0.54],[2262,0.93],[2265,1.06],[2269,0.89],[2272,0.72],[2275,0.54],[2279,0.63],[2282,0.93],[2285,1.24],[2289,1.41],[2292,1.32],[2296,0.93],[2299,0.58],[2301,0.45],[2305,0.67],[2308,0.98],[2311,1.11],[2315,0.93],[2318,0.82],[2322,0.93],[2325,1.06],[2328,1.19],[2332,1.32],[2335,1.02],[2338,0.89],[2342,0.76],[2345,0.82],[2349,1.15],[2352,1.22],[2355,0.93],[2359,0.72],[2362,0.85],[2365,0.93],[2369,0.98],[2372,0.72],[2375,0.58],[2378,0.47],[2381,0.72],[2385,0.67],[2388,0.76],[2391,1.06],[2395,1.02],[2398,1.11],[2402,1.24],[2405,1.11],[2408,0.93],[2412,1.00],[2415,1.06],[2418,0.82],[2422,1.02],[2425,0.98],[2428,1.32],[2432,1.50],[2435,1.68],[2439,1.50],[2442,1.37],[2445,1.11],[2449,0.93],[2452,0.76],[2455,0.74],[2459,0.67],[2461,0.54],[2465,0.76],[2468,1.02],[2471,1.11],[2475,0.85],[2478,0.69],[2481,0.93],[2485,1.15],[2488,1.24],[2491,1.28],[2494,1.11],[2498,0.93],[2501,1.02],[2504,0.82],[2508,0.89],[2511,1.28],[2514,1.15],[2518,0.89],[2521,0.67]];
const err1009 = [[1200,0.40],[1205,0.39],[1207,0.39],[1208,0.01],[1226,0.01],[1227,0.40],[1235,0.40],[1248,0.42],[1252,0.40],[1258,0.41],[1265,0.40],[1272,0.41],[1280,0.40],[1290,0.38],[1300,0.40],[1308,0.42],[1318,0.45],[1325,0.46],[1338,0.46],[1345,0.44],[1352,0.42],[1362,0.41],[1372,0.40],[1380,0.39],[1388,0.38],[1394,0.37],[1402,0.38],[1410,0.39],[1420,0.37],[1430,0.37],[1440,0.36],[1450,0.37],[1460,0.37],[1475,0.37],[1488,0.37],[1490,0.01],[1510,0.01],[1511,0.37],[1525,0.36],[1540,0.37],[1555,0.36],[1565,0.36],[1575,0.35],[1586,0.33],[1595,0.34],[1605,0.36],[1615,0.37],[1625,0.35],[1640,0.36],[1655,0.36],[1670,0.37],[1690,0.36],[1705,0.35],[1715,0.36],[1730,0.37],[1745,0.35],[1760,0.37],[1770,0.38],[1778,0.39],[1786,0.45],[1790,0.49],[1795,0.51],[1800,0.46],[1806,0.42],[1815,0.41],[1825,0.39],[1835,0.38],[1845,0.38],[1854,0.38],[1862,0.36],[1880,0.36],[1900,0.37],[1920,0.37],[1940,0.37],[1960,0.37],[1980,0.36],[2000,0.36],[2020,0.36],[2040,0.35],[2060,0.35],[2080,0.35],[2100,0.34],[2120,0.34],[2140,0.34],[2160,0.36],[2180,0.35],[2200,0.35],[2220,0.35],[2240,0.34],[2260,0.35],[2280,0.35],[2300,0.34],[2320,0.34],[2340,0.34],[2360,0.35],[2380,0.36],[2385,0.34],[2400,0.34],[2420,0.34],[2440,0.34],[2460,0.34],[2480,0.34],[2500,0.34],[2521,0.34]];
const model1009 = [[1200,0.86],[1214,0.81],[1227,0.83],[1237,0.87],[1248,0.88],[1258,0.94],[1269,0.98],[1279,0.92],[1290,0.86],[1299,0.95],[1315,0.99],[1328,1.05],[1338,1.00],[1347,0.94],[1357,1.00],[1368,1.05],[1384,1.05],[1395,1.01],[1408,0.92],[1416,0.98],[1426,1.03],[1433,1.00],[1443,0.93],[1454,0.98],[1464,0.98],[1471,0.93],[1481,0.99],[1490,0.99],[1500,0.87],[1509,0.76],[1515,0.74],[1523,0.85],[1532,0.92],[1544,0.89],[1555,0.87],[1565,0.85],[1578,0.91],[1588,0.87],[1598,0.75]];
const fit1009 = [[1738,0.29],[1750,0.26],[1772,0.29],[1775,0.37],[1778,0.50],[1782,0.61],[1798,0.64],[1802,0.61],[1807,0.58],[1824,0.62],[1830,0.65],[1839,0.69],[1845,0.72],[1849,0.74],[1855,0.76],[1862,0.77],[1866,0.78],[1877,0.80],[1887,0.81],[1896,0.85],[1902,0.88],[1917,0.85],[1934,0.88],[1944,0.94],[1957,0.98],[1961,1.03],[1969,1.07],[1984,1.05],[1992,1.02],[2003,1.00],[2030,1.01],[2056,0.99],[2062,0.89],[2070,0.74],[2077,0.63],[2083,0.61],[2093,0.70],[2098,0.86],[2104,1.03],[2108,1.12],[2120,1.17],[2127,1.13],[2142,1.11],[2169,1.10],[2194,1.11],[2216,1.14],[2224,1.12],[2247,1.11],[2258,1.07],[2283,1.08],[2293,1.06],[2308,1.05],[2325,1.02],[2333,0.98],[2340,0.95],[2345,0.92],[2352,0.86],[2357,0.74],[2361,0.60],[2372,0.52],[2379,0.55],[2384,0.70],[2393,0.87],[2399,1.02],[2404,1.13],[2409,1.20],[2420,1.23],[2428,1.15],[2442,1.12],[2449,1.09],[2468,1.08],[2477,1.12],[2497,1.12],[2502,1.10],[2512,1.08],[2519,1.06],[2521,1.06]];

const panels = [
  {flux: flux954, err: err954, model: model954, fit: fit954},
  {flux: flux1276, err: err1276, model: model1276, fit: fit1276},
  {flux: flux958, err: err958, model: model958, fit: null},
  {flux: flux1009, err: err1009, model: model1009, fit: fit1009}
];

// ---- figure ----
const FONT = 'Liberation Sans, Arial, Helvetica, sans-serif';
const LW = 2.2;
const GAP = LW / 1350;   // lets the shared panel borders coincide
const xs = a => a.map(p => p[0]);
const ys = a => a.map(p => p[1]);
const traces = [];
const layout = {
  width: 1600, height: 1600,
  margin: {l: 200, r: 79, t: 83, b: 167},
  paper_bgcolor: '#ffffff', plot_bgcolor: 'rgba(0,0,0,0)',
  showlegend: false,
  font: {family: FONT, color: '#000', size: 41},
  shapes: [], annotations: []
};

panels.forEach((p, i) => {
  const sfx = i === 0 ? '' : String(i + 1);
  const xa = 'x' + sfx, ya = 'y' + sfx;
  traces.push({x: xs(p.flux), y: ys(p.flux), xaxis: xa, yaxis: ya, type: 'scatter', mode: 'lines',
    line: {color: '#000000', width: 3.1}, hoverinfo: 'skip'});
  traces.push({x: xs(p.err), y: ys(p.err), xaxis: xa, yaxis: ya, type: 'scatter', mode: 'lines',
    line: {color: '#FF0000', width: 3}, hoverinfo: 'skip'});
  traces.push({x: xs(p.model), y: ys(p.model), xaxis: xa, yaxis: ya, type: 'scatter', mode: 'lines',
    line: {color: '#FF8C00', width: 3.5, shape: 'spline', smoothing: 0.6}, hoverinfo: 'skip'});
  if (p.fit) {
    traces.push({x: xs(p.fit), y: ys(p.fit), xaxis: xa, yaxis: ya, type: 'scatter', mode: 'lines',
      line: {color: '#00FF00', width: 3.3, shape: 'hv'}, hoverinfo: 'skip'});
  }
  let top = 1 - i * 0.25, bot = top - 0.25;
  if (i > 0) top -= GAP / 2;
  if (i < 3) bot += GAP / 2;
  layout['xaxis' + sfx] = {
    anchor: ya, domain: [0, 1], range: [1200, 2521],
    tickmode: 'linear', tick0: 1200, dtick: 188.714,
    ticks: 'inside', ticklen: 7, tickwidth: 2.2, tickcolor: '#000',
    showticklabels: false, showline: true, linewidth: LW, linecolor: '#000',
    mirror: 'ticks', showgrid: false, zeroline: false,
    minor: {tickmode: 'linear', tick0: 1200, dtick: 37.743, ticks: 'inside', ticklen: 4, tickwidth: 2, tickcolor: '#000', showgrid: false}
  };
  layout['yaxis' + sfx] = {
    anchor: xa, domain: [bot, top], range: [0, 2.2],
    tickmode: 'array', tickvals: yTickVals, ticktext: yTickText,
    ticks: 'inside', ticklen: 27, tickwidth: 2.2, tickcolor: '#000',
    tickfont: {family: FONT, size: 41, color: '#000'}, ticklabelstandoff: 3,
    showline: true, linewidth: LW, linecolor: '#000',
    mirror: 'ticks', showgrid: false, zeroline: false,
    minor: {tickmode: 'linear', tick0: 0, dtick: 0.1, ticks: 'inside', ticklen: 14, tickwidth: 2, tickcolor: '#000', showgrid: false}
  };
  // lower "0.0" label, raised as in the original
  layout.annotations.push({xref: 'paper', x: 0, xanchor: 'right', xshift: -9,
    yref: ya, y: 0, yanchor: 'middle', yshift: 14, text: '0.0', showarrow: false,
    font: {family: FONT, size: 41, color: '#000'}});
  // object label
  layout.annotations.push({xref: 'paper', x: 0.741, xanchor: 'left',
    yref: ya, y: 1.955, yanchor: 'middle', text: panelIds[i], showarrow: false,
    font: {family: FONT, size: 37, color: '#000'}});
  // vertical dashed marker
  layout.shapes.push({type: 'line', xref: xa, yref: ya, x0: breakLines[i], x1: breakLines[i], y0: 0, y1: 2.2,
    line: {color: '#0000FF', width: 3, dash: '20px,11px'}, layer: 'above'});
});

layout.shapes.push({type: 'rect', xref: 'x', yref: 'paper', x0: maskBand[0], x1: maskBand[1], y0: 0, y1: 1,
  fillcolor: '#FF8080', line: {width: 0}, layer: 'below'});

layout.xaxis4.title = {text: 'Wavelength (angstroms)', font: {family: FONT, size: 42, color: '#000'}, standoff: 105};
layout.annotations.push({xref: 'paper', yref: 'paper', x: -0.0908, y: 0.5, xanchor: 'center', yanchor: 'middle',
  text: 'Relative Flux', textangle: -90, showarrow: false, font: {family: FONT, size: 42, color: '#000'}});

Plotly.newPlot('chart', traces, layout, {displayModeBar: false, staticPlot: true});
</script>
</body></html>
